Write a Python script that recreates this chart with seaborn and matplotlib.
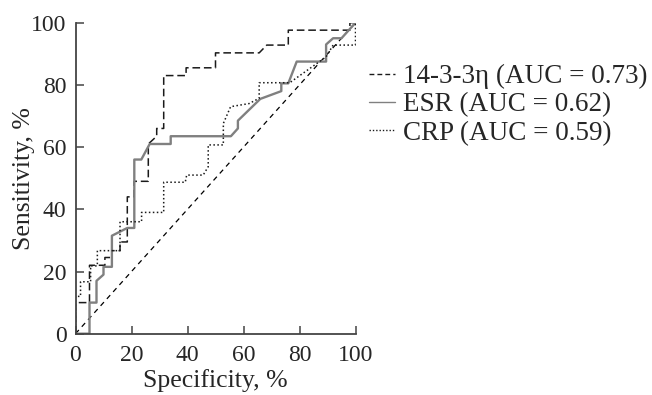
import matplotlib
matplotlib.use("Agg")
import matplotlib.pyplot as plt
import seaborn as sns
import pandas as pd

# ROC curve vertices (specificity %, sensitivity %)
eta_x = [0, 0, 5, 5, 10.5, 10.5, 13, 13, 15.9, 15.9, 18.5, 18.5, 20.9, 20.9, 26, 26, 29, 29,
         31.5, 31.5, 39.5, 39.5, 50, 50, 65.6, 68.3, 76, 76, 98, 98, 100]
eta_y = [0, 10, 10, 22, 22, 24.5, 24.5, 26.7, 26.7, 29.5, 29.5, 44, 44, 49, 49, 61, 63.5, 66,
         66, 83, 83, 85.5, 85.5, 90.3, 90.3, 92.8, 92.8, 97.6, 97.6, 100, 100]

esr_x = [0, 5, 5, 7.5, 7.5, 10, 10, 13, 13, 18.5, 21, 21, 23.5, 26.5, 34, 34, 55.5, 58, 58,
         66, 73.5, 73.5, 76, 79, 89.5, 89.5, 92, 95, 100]
esr_y = [0, 0, 10, 10, 17, 19, 21.5, 21.5, 31.5, 34, 34, 56, 56, 61, 61, 63.5, 63.5, 66, 68.5,
         75.5, 78, 80.5, 80.5, 87.5, 87.5, 93, 95, 95, 100]

crp_x = [0, 0, 1.8, 1.8, 3.9, 5.4, 5.4, 7.8, 7.8, 15.9, 15.9, 23.6, 23.6, 31.5, 31.5, 39.2,
         39.7, 45.6, 47.4, 47.4, 52.8, 52.8, 55.4, 62, 65.6, 65.6, 76.5, 89.5, 92, 100, 100]
crp_y = [0, 12, 12, 16.7, 16.7, 16.7, 21.8, 21.8, 26.7, 26.7, 36, 36, 39, 39, 48.7, 48.7,
         51, 51, 53.7, 60.7, 60.7, 67.6, 73, 74, 75.7, 80.7, 80.7, 89, 92.8, 92.8, 100]

ref_x = [0, 100]
ref_y = [0, 100]

labels = ["14-3-3\u03b7 (AUC = 0.73)", "ESR (AUC = 0.62)", "CRP (AUC = 0.59)"]
x_ticks = [0, 20, 40, 60, 80, 100]
y_ticks = [0, 20, 40, 60, 80, 100]

sns.set_theme(style="white")
plt.rcParams['font.family'] = ['Liberation Serif', 'DejaVu Serif']
plt.rcParams['font.size'] = 17

fig = plt.figure(figsize=(6.52, 3.95), dpi=100)
ax = fig.add_axes([75.5 / 652, (395 - 333.7) / 395, 280 / 652, 311 / 395])

df_ref = pd.DataFrame({"x": ref_x, "y": ref_y})
sns.lineplot(data=df_ref, x="x", y="y", ax=ax, sort=False, estimator=None,
             color="black", linewidth=0.9, legend=False)
ax.lines[-1].set_linestyle((0, (4, 3.5)))

df_eta = pd.DataFrame({"x": eta_x, "y": eta_y})
sns.lineplot(data=df_eta, x="x", y="y", ax=ax, sort=False, estimator=None,
             color="#1a1a1a", linewidth=1.1, label=labels[0])
ax.lines[-1].set_linestyle((0, (5, 2.5)))

df_esr = pd.DataFrame({"x": esr_x, "y": esr_y})
sns.lineplot(data=df_esr, x="x", y="y", ax=ax, sort=False, estimator=None,
             color="#808080", linewidth=1.7, label=labels[1])

df_crp = pd.DataFrame({"x": crp_x, "y": crp_y})
sns.lineplot(data=df_crp, x="x", y="y", ax=ax, sort=False, estimator=None,
             color="#1a1a1a", linewidth=1.1, label=labels[2])
ax.lines[-1].set_linestyle((0, (1, 1.6)))

ax.set_xlim(0, 100)
ax.set_ylim(0, 100)
ax.set_xticks(x_ticks)
ax.set_yticks(y_ticks)
ax.set_xlabel("Specificity, %", fontsize=18.5, labelpad=2)
ax.set_ylabel("Sensitivity, %", fontsize=18.5, labelpad=-3)
ax.tick_params(axis="both", direction="in", length=6, width=1.1, color="#444444",
               labelsize=17, left=True, bottom=True)
ax.tick_params(axis="x", pad=8)
ax.tick_params(axis="y", pad=6.5)
for s in ["top", "right"]:
    ax.spines[s].set_visible(False)
for s in ["left", "bottom"]:
    ax.spines[s].set_color("#444444")
    ax.spines[s].set_linewidth(1.3)

leg = ax.legend(loc="upper left", bbox_to_anchor=(1.048, 0.867), frameon=False,
                fontsize=19.5, handlelength=0.95, handletextpad=0.3, labelspacing=0.12,
                borderaxespad=0, borderpad=0)
leg_lines = leg.get_lines()
for h in leg_lines:
    h.set_linewidth(1.0)
leg_lines[0].set_linestyle((0, (3.5, 2.2)))
leg_lines[2].set_linestyle((0, (1, 1.4)))

fig.savefig("out.png", dpi=100)
